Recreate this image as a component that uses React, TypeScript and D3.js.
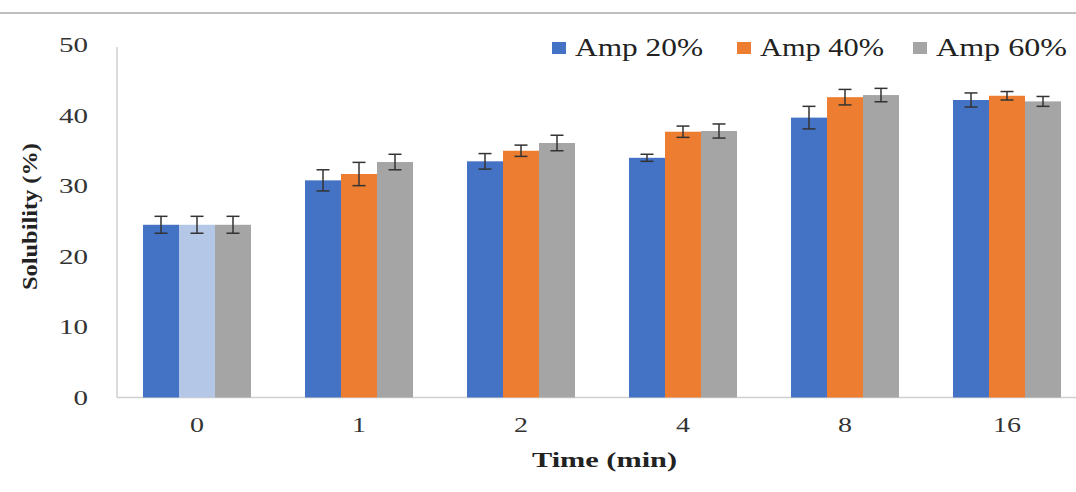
import React from "react";
import * as d3 from "d3";

const categories = ["0", "1", "2", "4", "8", "16"];
const seriesNames = ["Amp 20%", "Amp 40%", "Amp 60%"];
const amp20 = [24.5, 30.8, 33.5, 34.0, 39.7, 42.2];
const amp40 = [24.5, 31.7, 35.0, 37.7, 42.6, 42.8];
const amp60 = [24.5, 33.4, 36.1, 37.8, 42.9, 42.0];
const err20 = [1.2, 1.5, 1.1, 0.5, 1.6, 1.0];
const err40 = [1.2, 1.65, 0.8, 0.8, 1.1, 0.6];
const err60 = [1.2, 1.1, 1.1, 1.0, 0.95, 0.7];
const yTicks = [0, 10, 20, 30, 40, 50];

const colors = ["#4472C4", "#ED7D31", "#A5A5A5"];
const specialColor = "#B4C7E7"; // light bar at category 0, series 2

export default function App() {
  const W = 1076, H = 492;
  const left = 117, top = 45, bottom = 397.5;
  const x0 = d3.scaleBand().domain(categories).range([116, 1088]).paddingInner(1 / 3).paddingOuter(1 / 6);
  const x1 = d3.scaleBand().domain(seriesNames).range([0, x0.bandwidth()]).padding(0);
  const y = d3.scaleLinear().domain([0, 50]).range([bottom, top]);
  const values = [amp20, amp40, amp60];
  const errs = [err20, err40, err60];
  const fontStyle = { fontFamily: "'Liberation Serif', 'Times New Roman', 'DejaVu Serif', serif" };

  const legendX = [552, 737, 913];
  const legendTextLen = [128, 124, 131];

  return (
    <svg width={W} height={H} style={{ position: "absolute", left: 0, top: 0, background: "#fff" }}>
      <line x1={0} x2={W} y1={13} y2={13} stroke="#aaaaaa" strokeWidth={1.5} />
      {/* axes */}
      <line x1={left} x2={left} y1={47} y2={bottom} stroke="#d0d0d0" strokeWidth={1.5} />
      <line x1={left} x2={W} y1={bottom} y2={bottom} stroke="#d0d0d0" strokeWidth={1.5} />
      {yTicks.map((t) => (
        <text key={t} x={88} y={y(t) + 7} textAnchor="end" style={fontStyle} fontSize={21} fill="#333"
          textLength={String(t).length * 14.5} lengthAdjust="spacingAndGlyphs">
          {t}
        </text>
      ))}
      {categories.map((c) => (
        <text key={c} x={(x0(c) ?? 0) + x0.bandwidth() / 2} y={432} textAnchor="middle" style={fontStyle} fontSize={21} fill="#333"
          textLength={c.length * 14} lengthAdjust="spacingAndGlyphs">
          {c}
        </text>
      ))}
      {categories.map((c, i) =>
        seriesNames.map((s, j) => {
          const bx = (x0(c) ?? 0) + (x1(s) ?? 0);
          const v = values[j][i];
          const e = errs[j][i];
          const cx = bx + x1.bandwidth() / 2;
          const fill = i === 0 && j === 1 ? specialColor : colors[j];
          return (
            <g key={c + s}>
              <rect x={bx} y={y(v)} width={x1.bandwidth()} height={bottom - y(v)} fill={fill} />
              <line x1={cx} x2={cx} y1={y(v + e)} y2={y(v - e)} stroke="#333" strokeWidth={1.5} />
              <line x1={cx - 6.5} x2={cx + 6.5} y1={y(v + e)} y2={y(v + e)} stroke="#333" strokeWidth={1.5} />
              <line x1={cx - 6.5} x2={cx + 6.5} y1={y(v - e)} y2={y(v - e)} stroke="#333" strokeWidth={1.5} />
            </g>
          );
        })
      )}
      {/* legend */}
      {seriesNames.map((s, j) => (
        <g key={s}>
          <rect x={legendX[j]} y={42} width={14} height={12} fill={colors[j]} />
          <text x={legendX[j] + 23} y={56} style={fontStyle} fontSize={25} fill="#222"
            textLength={legendTextLen[j]} lengthAdjust="spacingAndGlyphs">
            {s}
          </text>
        </g>
      ))}
      <text x={532} y={467} style={fontStyle} fontSize={22} fontWeight="bold" fill="#222"
        textLength={145} lengthAdjust="spacingAndGlyphs">
        Time (min)
      </text>
      <text transform="translate(37,290) rotate(-90)" style={fontStyle} fontSize={22} fontWeight="bold" fill="#222"
        textLength={147} lengthAdjust="spacingAndGlyphs">
        Solubility (%)
      </text>
    </svg>
  );
}
